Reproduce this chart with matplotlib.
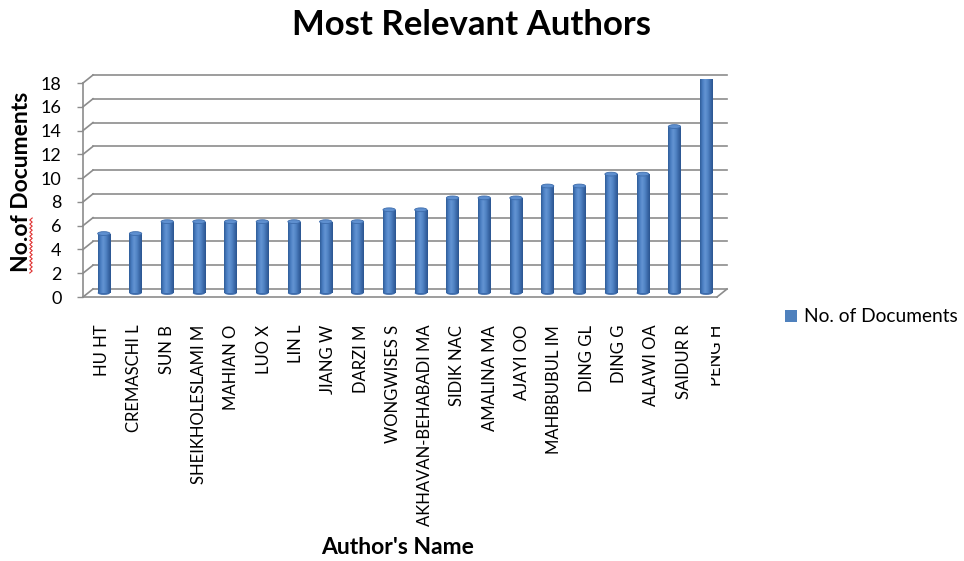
import matplotlib
matplotlib.use("Agg")
import matplotlib.pyplot as plt
import matplotlib.transforms as mtransforms
from matplotlib.patches import Ellipse, Patch
from matplotlib.lines import Line2D
from matplotlib.colors import LinearSegmentedColormap
import numpy as np

# ---- data -------------------------------------------------------------
authors = [
    "HU HT", "CREMASCHI L", "SUN B", "SHEIKHOLESLAMI M", "MAHIAN O",
    "LUO X", "LIN L", "JIANG W", "DARZI M", "WONGWISES S",
    "AKHAVAN-BEHABADI MA", "SIDIK NAC", "AMALINA MA", "AJAYI OO",
    "MAHBBUBUL IM", "DING GL", "DING G", "ALAWI OA", "SAIDUR R", "PENG H",
]
documents = [5, 5, 6, 6, 6, 6, 6, 6, 6, 7, 7, 8, 8, 8, 9, 9, 10, 10, 14, 18]
y_ticks = [0, 2, 4, 6, 8, 10, 12, 14, 16, 18]
series_name = "No. of Documents"

# ---- figure ----------------------------------------------------------
W, H, DPI = 964, 561, 100
FONT = ["Lato", "DejaVu Sans"]
plt.rcParams["font.family"] = FONT

fig = plt.figure(figsize=(W / DPI, H / DPI), dpi=DPI)
fig.patch.set_facecolor("white")


def fx(px):
    return px / W


def fy(py):
    return 1 - py / H


GRID = "#8c8c8c"
BLUE = "#4f81bd"
LW = 1.2

# front plane of the 3-D box
ax = fig.add_axes([fx(83), fy(297), fx(717) - fx(83), fy(83) - fy(297)])
n = len(authors)
ax.set_facecolor("none")
ax.set_xlim(0, n)
ax.set_ylim(0, 18)
ax.set_autoscale_on(False)

# depth offsets (pixels) for the back wall and the middle row of bars
DX, DY = 10, 8
back = ax.transData + mtransforms.ScaledTranslation(DX / DPI, DY / DPI, fig.dpi_scale_trans)
mid = ax.transData + mtransforms.ScaledTranslation(DX / 2 / DPI, DY / 2 / DPI, fig.dpi_scale_trans)


def depth_edge(xv, yv):
    """Diagonal from a front-plane point back to the rear wall."""
    p0 = ax.transData.transform((xv, yv))
    fig.add_artist(Line2D([p0[0], p0[0] + DX], [p0[1], p0[1] + DY],
                          transform=mtransforms.IdentityTransform(),
                          color=GRID, lw=LW, zorder=1))


# back-wall gridlines with their diagonal connectors
for v in y_ticks:
    ax.plot([0, n], [v, v], transform=back, color=GRID, lw=LW, clip_on=False, zorder=1)
    depth_edge(0, v)
# floor: front edge and right-hand diagonal
ax.plot([0, n], [0, 0], color=GRID, lw=LW, clip_on=False, zorder=1)
depth_edge(n, 0)

# cylinder bars
x = np.arange(n) + 0.5
bw = 0.39
bars = ax.bar(x, documents, width=bw, color=BLUE, zorder=3, linewidth=0)
cyl = LinearSegmentedColormap.from_list(
    "cyl", ["#2f5d98", "#4b7ec2", "#6394d3", "#5285c6", "#3d6bab", "#2a5590"])
grad = np.linspace(0, 1, 64).reshape(1, -1)
cap_h = 0.32
for xi, v, b in zip(x, documents, bars):
    b.set_transform(mid)
    im = ax.imshow(grad, cmap=cyl, extent=(xi - bw / 2, xi + bw / 2, 0, v),
                   aspect="auto", transform=mid, zorder=3.1, interpolation="bilinear")
    im.set_clip_path(b)
    ax.add_patch(Ellipse((xi, 0), bw, cap_h, transform=mid, facecolor="#3d6bab",
                         edgecolor="none", zorder=2.9))
    ax.add_patch(Ellipse((xi, v), bw, cap_h, transform=mid, facecolor="#5e8fcf",
                         edgecolor="#3d6cab", lw=0.6, zorder=3.5))

ax.set_xlim(0, n)
ax.set_ylim(0, 18)
ax.set_yticks(y_ticks)
ax.set_xticks([])
for s in ["top", "right", "bottom"]:
    ax.spines[s].set_visible(False)
ax.spines["left"].set_color(GRID)
ax.spines["left"].set_linewidth(LW)
ax.tick_params(axis="y", direction="out", length=4.5, width=1.0, color=GRID,
               labelsize=13, pad=11, labelcolor="#000000")

# category labels along the front edge
ax_lab = fig.add_axes([fx(86), fy(297), fx(732) - fx(86), fy(83) - fy(297)])
ax_lab.patch.set_visible(False)
for s in ax_lab.spines.values():
    s.set_visible(False)
ax_lab.set_xlim(-0.5, n - 0.5)
ax_lab.set_ylim(0, 1)
ax_lab.set_yticks([])
ax_lab.set_xticks(range(n))
ax_lab.set_xticklabels(authors, rotation=90, fontsize=12)
ax_lab.tick_params(axis="x", length=0, pad=20)
last = ax_lab.get_xticklabels()[-1]
last.set_clip_box(mtransforms.TransformedBbox(
    mtransforms.Bbox.from_extents(fx(711), 0, 1, 1), fig.transFigure))
last.set_clip_on(True)

# titles
fig.text(fx(472), fy(25), "Most Relevant Authors", ha="center", va="center",
         fontsize=25, fontweight="bold")
fig.text(fx(398), fy(548), "Author's Name", ha="center", va="center",
         fontsize=16.5, fontweight="bold")
fig.text(fx(22), fy(182), "No.of Documents", ha="center", va="center",
         rotation=90, fontsize=16.5, fontweight="bold")
# spell-check squiggle under "No.of"
m = 28
yy = np.linspace(fy(273), fy(218), m)
xx = fx(31) + np.where(np.arange(m) % 2 == 0, -1.2, 1.2) / W
fig.add_artist(Line2D(xx, yy, transform=fig.transFigure, color="#e03030", lw=0.8))

# legend
fig.legend(handles=[Patch(facecolor=BLUE, edgecolor="none")], labels=[series_name],
           loc="center left", bbox_to_anchor=(fx(785), fy(317)), frameon=False,
           borderpad=0, borderaxespad=0,
           handlelength=0.6, handleheight=0.6, handletextpad=0.4, fontsize=13.8)

fig.savefig("out.png", dpi=DPI, facecolor="white")
